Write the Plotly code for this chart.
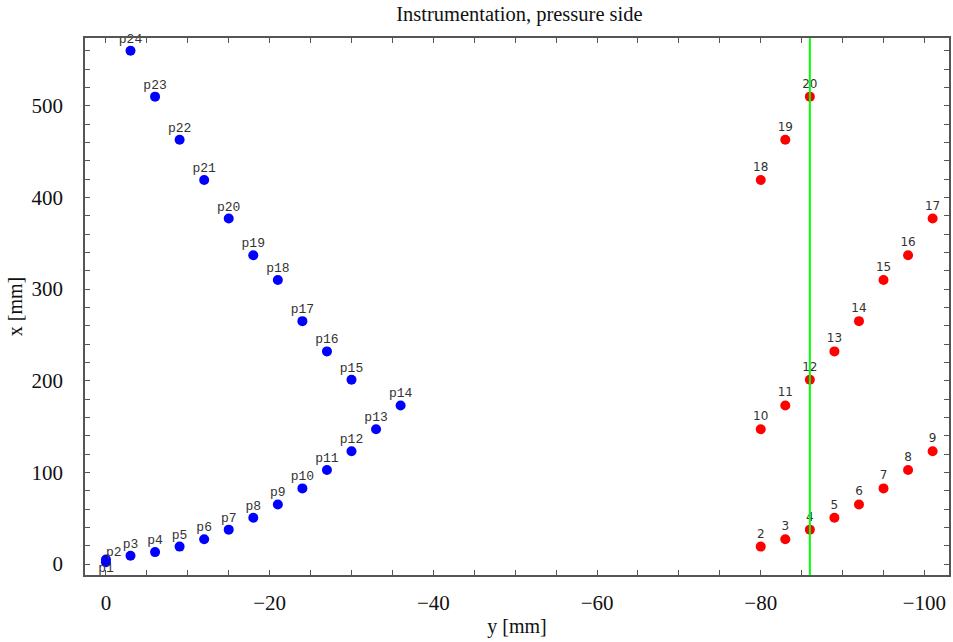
import plotly.graph_objects as go

# Blue probes p1..p24 (pressure side)
blue_labels = [f"p{i}" for i in range(1, 25)]
blue_y = [0, 0, -3, -6, -9, -12, -15, -18, -21, -24, -27, -30, -33, -36,
          -30, -27, -24, -21, -18, -15, -12, -9, -6, -3]
blue_x = [2, 5, 9, 13, 19, 27, 37.5, 50.5, 65, 82.5, 102.5, 123, 147, 173,
          201, 232, 265, 310, 337, 377, 419, 463, 510, 560]
blue_pos = ["bottom center", "top right"] + ["top center"] * 22
blue_pad = [0, 0] + [6] * 22

# Red probes 2..20
red_labels = [str(i) for i in range(2, 21)]
red_y = [-80, -83, -86, -89, -92, -95, -98, -101, -80, -83, -86, -89, -92,
         -95, -98, -101, -80, -83, -86]
red_x = [19, 27, 37.5, 50.5, 65, 82.5, 102.5, 123, 147, 173, 201, 232, 265,
         310, 337, 377, 419, 463, 510]

green_line_y = -86

fig = go.Figure()
fig.add_vline(x=green_line_y, line=dict(color="#00ff00", width=2))
fig.add_trace(go.Scatter(
    x=blue_y, y=blue_x, mode="markers",
    marker=dict(color="#0000ff", size=10), showlegend=False, cliponaxis=False))
fig.add_trace(go.Scatter(
    x=red_y, y=red_x, mode="markers",
    marker=dict(color="#ff0000", size=10), showlegend=False, cliponaxis=False))
fig.add_trace(go.Scatter(
    x=blue_y, y=blue_x, mode="markers+text", text=blue_labels, textposition=blue_pos,
    marker=dict(size=blue_pad, opacity=0),
    textfont=dict(family="Liberation Mono", size=13, color="#333333"),
    showlegend=False, cliponaxis=False, hoverinfo="skip"))
fig.add_trace(go.Scatter(
    x=red_y, y=red_x, mode="markers+text", text=red_labels, textposition="top center",
    marker=dict(size=8, opacity=0),
    textfont=dict(family="DejaVu Sans", size=12, color="#333333"),
    showlegend=False, cliponaxis=False, hoverinfo="skip"))

axis_common = dict(
    showline=True, linecolor="#555555", linewidth=1.5, mirror="allticks",
    ticks="inside", ticklen=5, tickcolor="#555555", showgrid=False,
    zeroline=False, tickfont=dict(family="Liberation Serif", size=21, color="#111111"),
)
fig.update_xaxes(range=[2.56, -103], dtick=20, tick0=0, ticklabelstandoff=8,
                 minor=dict(dtick=5, ticks="inside", ticklen=5, tickcolor="#555555"),
                 title=dict(text="y [mm]", font=dict(family="Liberation Serif", size=20, color="#111111"), standoff=5),
                 **axis_common)
fig.update_yaxes(range=[-12, 574], dtick=100, tick0=0, ticklabelstandoff=16,
                 minor=dict(dtick=20, ticks="inside", ticklen=5, tickcolor="#555555"),
                 title=dict(text="x [mm]", font=dict(family="Liberation Serif", size=20, color="#111111"), standoff=4),
                 **axis_common)
fig.update_layout(
    width=953, height=642,
    margin=dict(l=85, r=2, t=38, b=67),
    plot_bgcolor="white", paper_bgcolor="white",
    title=dict(text="Instrumentation, pressure side", x=0.545, xanchor="center",
               y=1 - 14 / 642, yanchor="middle",
               font=dict(family="Liberation Serif", size=20.5, color="#111111")),
)
fig.write_html("out.html")
